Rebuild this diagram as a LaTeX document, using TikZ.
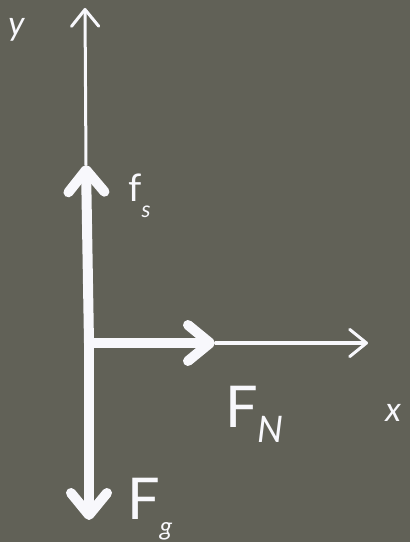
\documentclass[tikz,border=0pt]{standalone}
\usepackage{fontspec}
\setmainfont{Lato}
\usepackage{xcolor}
\usepackage{tikz}
\usetikzlibrary{arrows.meta}
\definecolor{boardgrey}{RGB}{97,97,87}
\definecolor{chalkwhite}{RGB}{248,248,252}

\begin{document}
\begin{tikzpicture}[x=0.025cm,y=0.025cm,
    forcevec/.style={chalkwhite,line width=0.25cm,-{Straight Barb[round,length=0.55cm,width=0.9cm]}},
    axisline/.style={chalkwhite,line width=0.075cm,-{Straight Barb[round,length=0.42cm,width=0.68cm]}},
    lbl/.style={chalkwhite,inner sep=0pt,anchor=base west}]
        % board
        \fill[boardgrey] (0,0) rectangle (410,542);
        \useasboundingbox (0,0) rectangle (410,542);

        % points
        \coordinate (o) at (89,199);
        \coordinate (ytip) at (85,534);
        \coordinate (xtip) at (368,199);
        \coordinate (fstip) at (86,377);
        \coordinate (fntip) at (215,199);
        \coordinate (fgtip) at (89,22);

        % axes
        \draw[axisline] (fstip) -- (ytip);
        \draw[axisline] (fntip) -- (xtip);

        % forces
        \draw[forcevec] (o) -- (fstip);
        \draw[forcevec] (o) -- (fntip);
        \draw[forcevec] (o) -- (fgtip);

        % labels
        \node[lbl] (ylbl) at (8,506) {\fontsize{24}{24}\selectfont\itshape y};
        \node[lbl] (xlbl) at (385,120) {\fontsize{24}{24}\selectfont\itshape x};
        \node[lbl] (fslbl) at (128,340) {\fontsize{27}{27}\selectfont f\raisebox{-0.375cm}{\fontsize{16}{16}\selectfont\itshape s}};
        \node[lbl] (fnlbl) at (225,115) {\fontsize{41}{41}\selectfont F\raisebox{-0.375cm}{\fontsize{26}{26}\selectfont\itshape N}};
        \node[lbl] (fglbl) at (127,22) {\fontsize{41}{41}\selectfont F\raisebox{-0.375cm}{\fontsize{18}{18}\selectfont\itshape g}};
\end{tikzpicture}
\end{document}
